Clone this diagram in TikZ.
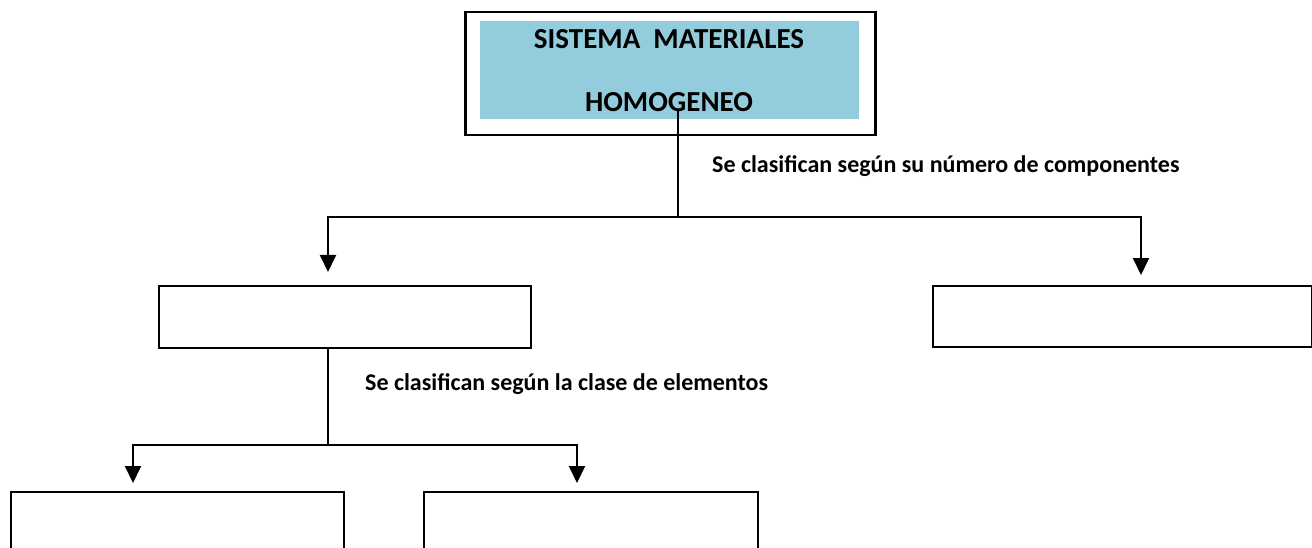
\documentclass[tikz,border=0pt]{standalone}
\usepackage{fontspec}
\setmainfont{Carlito}
\usetikzlibrary{arrows.meta}
\definecolor{titlefill}{RGB}{147,205,221}
\begin{document}
\begin{tikzpicture}[x=1pt,y=-1pt,
  box/.style={draw=black, line width=2pt, rectangle, inner sep=0pt, anchor=north west},
  arr/.style={line width=2pt, -{Triangle[width=16pt,length=17pt]}},
  conn/.style={line width=2pt},
  lbl/.style={font=\fontsize{24}{28}\selectfont\bfseries, inner sep=0pt, anchor=base west},
  ttl/.style={font=\fontsize{29}{34}\selectfont\bfseries, inner sep=0pt, anchor=base}]
\useasboundingbox (0,0) rectangle (1312,548);
\clip (0,0) rectangle (1312,548);
% top box
\node[box, line width=2.5pt, minimum width=410pt, minimum height=123pt] (top) at (464,11) {};
\node[fill=titlefill, inner sep=0pt, anchor=north west, minimum width=379pt, minimum height=98pt] (inner) at (480,21) {};
\node[ttl] (t1) at (669,49) {SISTEMA\ \ MATERIALES};
\node[ttl] (t2) at (669,112) {HOMOGENEO};
% middle boxes
\node[box, minimum width=372pt, minimum height=62pt] (midL) at (158,285) {};
\node[box, minimum width=379pt, minimum height=61pt] (midR) at (932,285) {};
% bottom boxes
\node[box, minimum width=333pt, minimum height=120pt] (botL) at (10,491) {};
\node[box, minimum width=334pt, minimum height=120pt] (botR) at (423,491) {};
% labels
\node[lbl] (l1) at (712,173) {Se clasifican según su número de componentes};
\node[lbl] (l2) at (365,390) {Se clasifican según la clase de elementos};
% connectors
\coordinate (c0) at (678,111);
\coordinate (j1) at (678,217);
\coordinate (aL) at (328,272);
\coordinate (aR) at (1141,275);
\coordinate (c1) at (328,347);
\coordinate (j2) at (328,445);
\coordinate (bL) at (133,483);
\coordinate (bR) at (577,483);
\draw[conn] (c0) -- (j1);
\draw[arr] (j1) -| (aL);
\draw[arr] (j1) -| (aR);
\draw[conn] (c1) -- (j2);
\draw[arr] (j2) -| (bL);
\draw[arr] (j2) -| (bR);
\end{tikzpicture}
\end{document}
